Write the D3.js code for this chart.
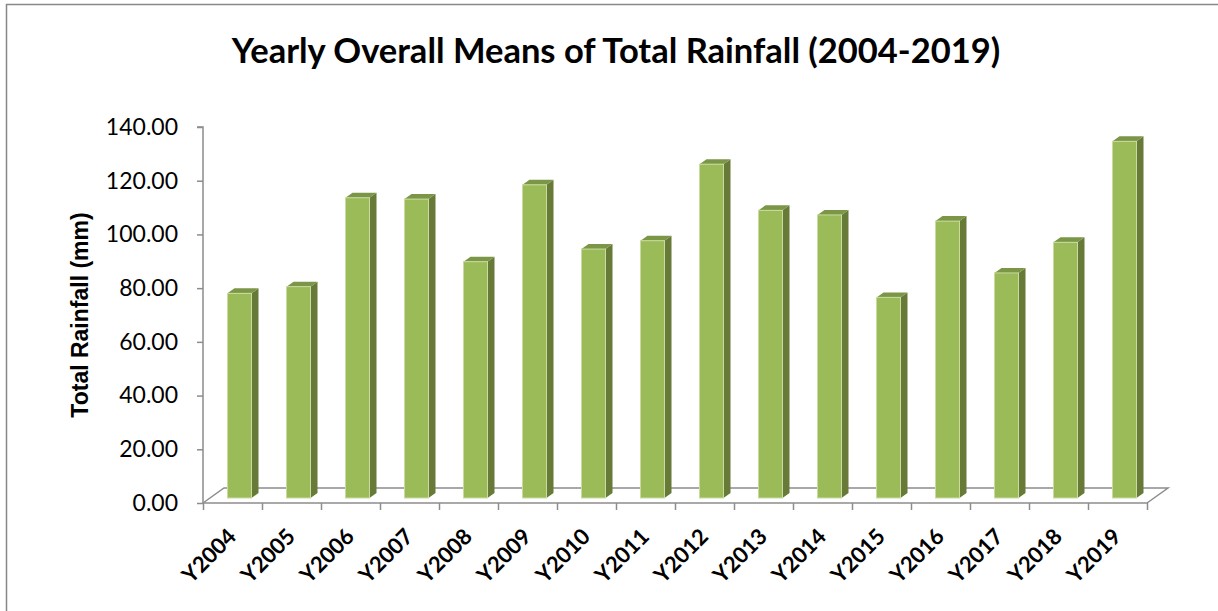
<!DOCTYPE html>
<html>
<head>
<meta charset="utf-8">
<script src="https://cdn.jsdelivr.net/npm/d3@7"></script>
<style>
  html, body { margin: 0; padding: 0; background: #fff; }
  svg { display: block; }
</style>
</head>
<body>
<svg id="chart" width="1218" height="611"></svg>
<script>
const categories = ["Y2004","Y2005","Y2006","Y2007","Y2008","Y2009","Y2010","Y2011",
                    "Y2012","Y2013","Y2014","Y2015","Y2016","Y2017","Y2018","Y2019"];
const rainfall = [76.2, 78.7, 111.8, 111.3, 88.0, 116.6, 92.7, 95.8,
                  124.3, 107.1, 105.4, 74.7, 103.1, 83.8, 95.2, 132.8];
const yTicks = [0, 20, 40, 60, 80, 100, 120, 140];
const titleText = "Yearly Overall Means of Total Rainfall (2004-2019)";
const yAxisTitle = "Total Rainfall (mm)";

const svg = d3.select("#chart");
const W = 1218, H = 611;

// frame
svg.append("rect").attr("x", 6.5).attr("y", 4.5).attr("width", W).attr("height", H)
  .attr("fill", "#fff").attr("stroke", "#888").attr("stroke-width", 1.5);

const pLeft = 203, pRight = 1147, pTop = 127, pBottom = 503;
const depthX = 21, depthY = -15;

const x = d3.scaleBand().domain(categories).range([pLeft, pRight])
  .paddingInner(35 / 59).paddingOuter(35 / 118);
const y = d3.scaleLinear().domain([0, 140]).range([pBottom, pTop]);

const axisColor = "#8c8c8c";
const g = svg.append("g");

// floor
const floor = g.append("g").attr("stroke", axisColor).attr("stroke-width", 1.5).attr("fill", "none");
floor.append("path").attr("d",
  `M${pLeft},${pBottom} L${pLeft + depthX},${pBottom + depthY} L${pRight + depthX},${pBottom + depthY} L${pRight},${pBottom}`);

// y axis
const yAxis = d3.axisLeft(y).tickValues(yTicks).tickSize(6).tickFormat(d3.format(".2f"));
const ya = g.append("g").attr("transform", `translate(${pLeft},0)`).call(yAxis);
ya.select(".domain").attr("stroke", axisColor).attr("stroke-width", 1.5)
  .attr("d", `M-6,${pTop}H0V${pBottom}`);
ya.selectAll(".tick line").attr("stroke", axisColor).attr("stroke-width", 1.5);
ya.selectAll(".tick text").attr("x", -25).attr("font-family", "Lato, sans-serif")
  .attr("font-size", 23).attr("fill", "#000");

// x axis
const xAxis = d3.axisBottom(d3.scalePoint().domain(d3.range(categories.length + 1)).range([pLeft, pRight]))
  .tickSize(7).tickFormat("");
const xa = g.append("g").attr("transform", `translate(0,${pBottom})`).call(xAxis);
xa.select(".domain").attr("stroke", axisColor).attr("stroke-width", 1.5).attr("d", `M${pLeft},0H${pRight}`);
xa.selectAll(".tick line").attr("stroke", axisColor).attr("stroke-width", 1.5);

// x labels
g.append("g").selectAll("text").data(categories).join("text")
  .attr("transform", d => `translate(${x(d) + x.bandwidth() / 2 + 5},${pBottom + 35}) rotate(-45)`)
  .attr("text-anchor", "end")
  .attr("font-family", "Lato, sans-serif").attr("font-weight", "bold")
  .attr("font-size", 22).attr("fill", "#000")
  .text(d => d);

// bars (3D)
const fx = depthX / 3, fy = depthY / 3;
const bw = x.bandwidth();
const bars = g.append("g").selectAll("g").data(categories.map((c, i) => ({c, v: rainfall[i]}))).join("g");
bars.each(function(d) {
  const sel = d3.select(this);
  const x0 = x(d.c) + fx, yb = y(0) + fy, yt = y(d.v) + fy;
  sel.append("path").attr("d",
    `M${x0 + bw},${yt} L${x0 + bw + fx},${yt + fy} L${x0 + bw + fx},${yb + fy} L${x0 + bw},${yb} Z`)
    .attr("fill", "#677a37");
  sel.append("path").attr("d",
    `M${x0},${yt} L${x0 + fx},${yt + fy} L${x0 + bw + fx},${yt + fy} L${x0 + bw},${yt} Z`)
    .attr("fill", "#7b9646");
  sel.append("rect").attr("x", x0).attr("y", yt).attr("width", bw).attr("height", yb - yt)
    .attr("fill", "#9bbb59").attr("stroke", "#c9dba0").attr("stroke-width", 1);
});

// title
svg.append("text").attr("x", 616).attr("y", 63).attr("text-anchor", "middle")
  .attr("font-family", "Lato, sans-serif").attr("font-weight", "bold")
  .attr("font-size", 34.5).attr("fill", "#000").text(titleText);

// y-axis title
svg.append("text").attr("transform", "translate(88,315) rotate(-90)")
  .attr("text-anchor", "middle")
  .attr("font-family", "'Liberation Sans', Arial, sans-serif").attr("font-weight", "bold")
  .attr("font-size", 23).attr("fill", "#000").text(yAxisTitle);
</script>
</body>
</html>
